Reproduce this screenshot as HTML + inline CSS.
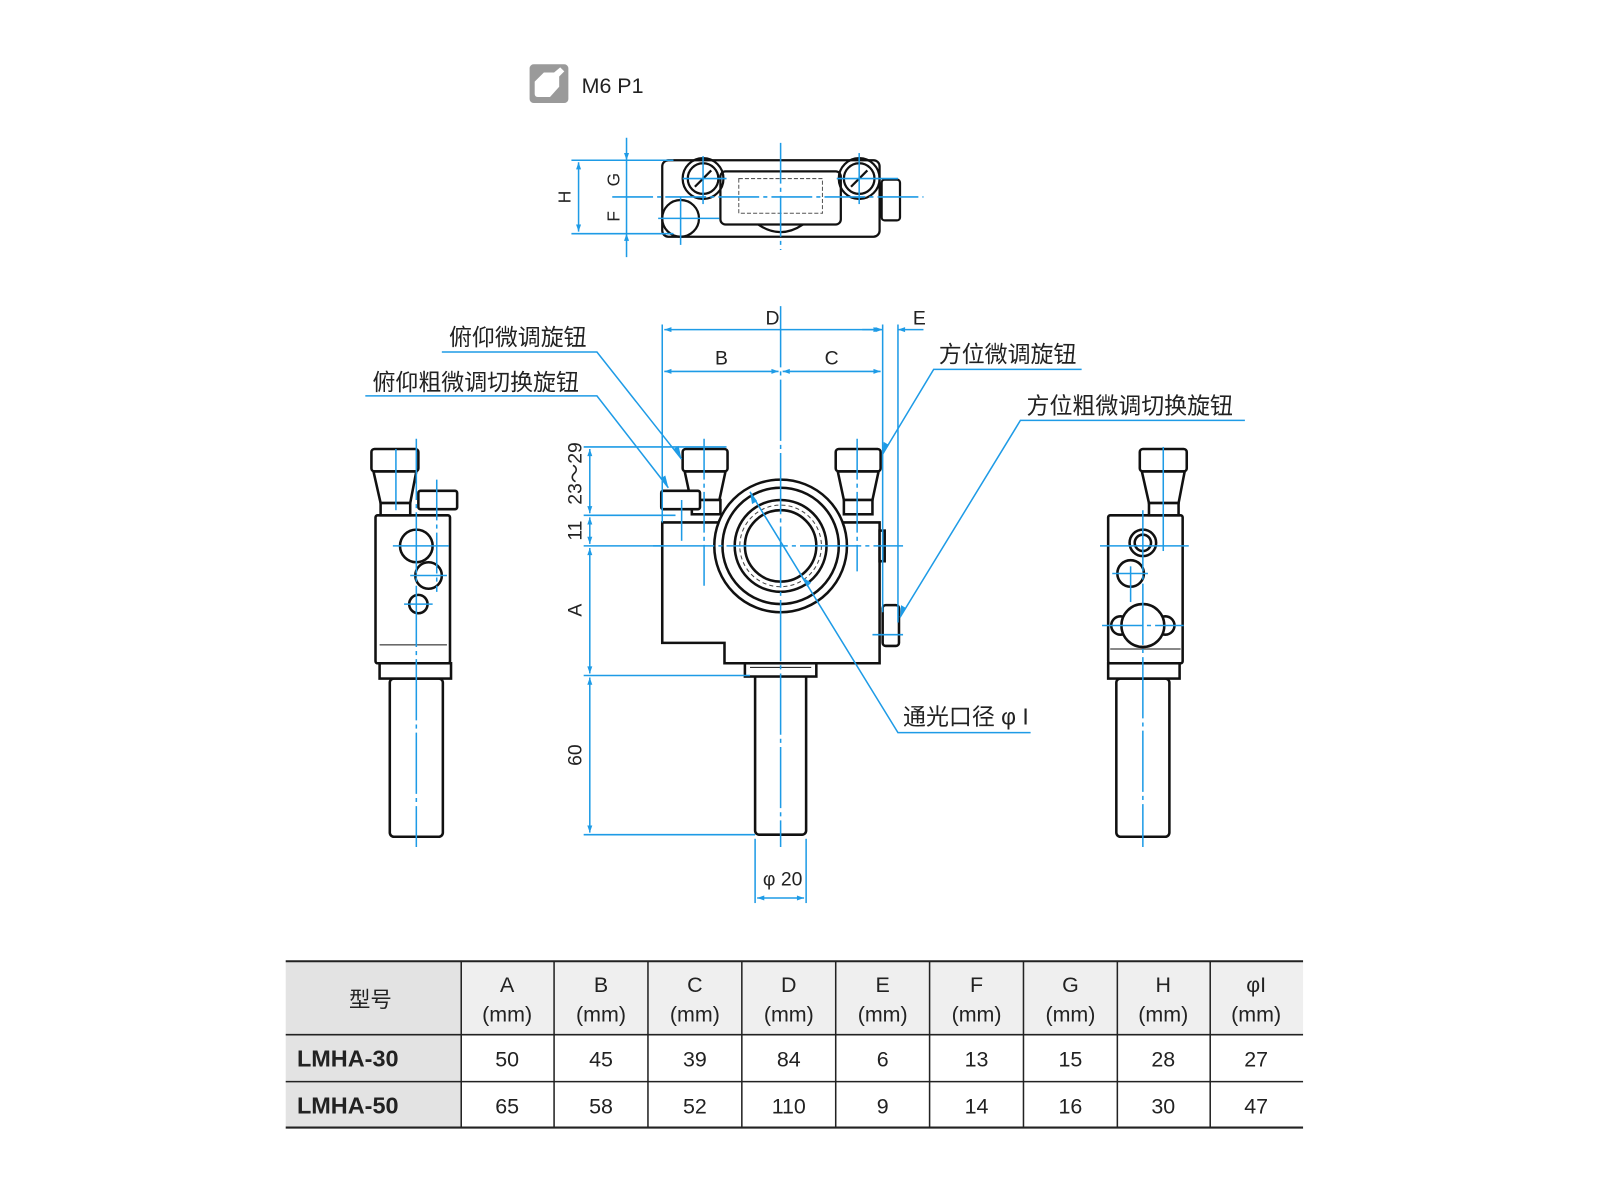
<!DOCTYPE html>
<html><head><meta charset="utf-8"><style>
html,body{margin:0;padding:0;background:#fff;}
svg{display:block;}
text{font-family:"Liberation Sans","Noto Sans CJK SC",sans-serif;}
</style></head><body>
<svg width="1600" height="1200" viewBox="0 0 1568 1176" xmlns="http://www.w3.org/2000/svg">
<defs>
<marker id="a" viewBox="0 0 10 10" refX="10" refY="5" markerWidth="9" markerHeight="7" orient="auto-start-reverse" markerUnits="userSpaceOnUse"><path d="M0,1.5 L10,5 L0,8.5 z" fill="#1e9be6"/></marker>
</defs>
<rect width="1568" height="1176" fill="#fff"/>

<!-- icon -->
<rect x="519" y="63" width="38" height="38" rx="4" fill="#9a9a9a"/>
<path d="M524,80 L533,71 L543,71 L549,66 L553,70 L548,75 L548,85 L539,95 L527,95 Q524,95 524,92 Z" fill="#fff"/>
<text x="570" y="91" font-size="21" fill="#222">M6 P1</text>

<!-- TOP VIEW -->
<g fill="none" stroke="#111" stroke-width="2.2">
<rect x="649" y="157" width="213" height="75" rx="6"/>
<rect x="706" y="168" width="118" height="52" rx="5"/>
<path d="M743,220 Q765,235 787,220"/>
<circle cx="689" cy="175" r="20"/><circle cx="689" cy="175" r="15"/>
<circle cx="842" cy="175" r="20"/><circle cx="842" cy="175" r="15"/>
<circle cx="667" cy="214" r="18" fill="#fff"/>
<rect x="864" y="176" width="18" height="40" rx="3"/>
<line x1="681" y1="183" x2="697" y2="167"/><line x1="834" y1="183" x2="850" y2="167"/>
</g>
<rect x="724" y="175" width="82" height="34" fill="none" stroke="#555" stroke-width="1" stroke-dasharray="4,2"/>
<g stroke="#1e9be6" stroke-width="1.5" fill="none">
<line x1="600" y1="193" x2="905" y2="193" stroke-dasharray="40,4,4,4"/>
<line x1="765" y1="140" x2="765" y2="245" stroke-dasharray="40,4,4,4"/>
<line x1="669" y1="175" x2="712" y2="175"/><line x1="689" y1="153" x2="689" y2="200"/>
<line x1="820" y1="175" x2="880" y2="175"/><line x1="842" y1="150" x2="842" y2="200"/>
<line x1="645" y1="214" x2="705" y2="214"/><line x1="667" y1="193" x2="667" y2="240"/>
<line x1="560" y1="157" x2="660" y2="157"/><line x1="560" y1="229" x2="660" y2="229"/>
<line x1="567" y1="159" x2="567" y2="227" marker-start="url(#a)" marker-end="url(#a)"/>
<line x1="614" y1="135" x2="614" y2="157" marker-end="url(#a)"/>
<line x1="614" y1="157" x2="614" y2="229"/>
<line x1="614" y1="252" x2="614" y2="229" marker-end="url(#a)"/>
</g>
<g font-size="17" fill="#222" text-anchor="middle">
<text transform="translate(559,193) rotate(-90)">H</text>
<text transform="translate(607,176) rotate(-90)">G</text>
<text transform="translate(607,212) rotate(-90)">F</text>
</g>

<!-- FRONT VIEW -->
<g fill="#fff" stroke="#111" stroke-width="2.5">
<rect x="740" y="660" width="50" height="158" rx="4"/>
<rect x="730" y="650" width="70" height="13"/>
<path d="M649,512 L720,512 L720,540 A45,45 0 0 0 810,540 L810,512 L862,512 L862,650 L710,650 L710,630 L649,630 Z"/>
<circle cx="765" cy="535" r="65"/>
<circle cx="765" cy="535" r="57"/>
<circle cx="765" cy="535" r="45"/>
<circle cx="765" cy="535" r="35"/>
<rect x="669" y="440" width="44" height="22" rx="3"/>
<path d="M671,462 L711,462 L705,490 L677,490 Z"/>
<rect x="678" y="490" width="28" height="14"/>
<rect x="819" y="440" width="44" height="22" rx="3"/>
<path d="M821,462 L861,462 L855,490 L827,490 Z"/>
<rect x="827" y="490" width="28" height="14"/>
<rect x="648" y="481" width="38" height="18" rx="2"/>
<rect x="865" y="593" width="16" height="40" rx="3"/>
<rect x="862" y="520" width="5" height="30"/>
</g>
<circle cx="765" cy="535" r="40" fill="none" stroke="#444" stroke-width="1" stroke-dasharray="4,3"/>
<g stroke="#111" stroke-width="1"><line x1="735" y1="654" x2="795" y2="654"/></g>

<!-- left side view -->
<g fill="#fff" stroke="#111" stroke-width="2.5">
<rect x="382" y="665" width="52" height="155" rx="4"/>
<rect x="372" y="650" width="70" height="15"/>
<rect x="368" y="505" width="73" height="145" rx="2"/>
<rect x="364" y="440" width="46" height="22" rx="3"/>
<path d="M366,462 L408,462 L402,493 L373,493 Z"/>
<rect x="373" y="493" width="29" height="12"/>
<rect x="410" y="481" width="38" height="18" rx="2"/>
<circle cx="408" cy="535" r="16"/>
<circle cx="420" cy="564" r="13"/>
<circle cx="410" cy="592" r="9"/>
</g>
<line x1="372" y1="632" x2="438" y2="632" stroke="#111" stroke-width="1"/>

<!-- right side view -->
<g fill="#fff" stroke="#111" stroke-width="2.5">
<rect x="1094" y="665" width="52" height="155" rx="4"/>
<rect x="1086" y="650" width="70" height="15"/>
<rect x="1086" y="505" width="73" height="145" rx="2"/>
<rect x="1117" y="440" width="46" height="22" rx="3"/>
<path d="M1119,462 L1161,462 L1155,493 L1126,493 Z"/>
<rect x="1126" y="493" width="29" height="12"/>
<circle cx="1120" cy="532" r="13"/><circle cx="1120" cy="532" r="8"/>
<circle cx="1108" cy="562" r="13"/>
<circle cx="1098" cy="613" r="9"/><circle cx="1142" cy="613" r="9"/>
<circle cx="1120" cy="613" r="21"/>
</g>
<line x1="1088" y1="636" x2="1157" y2="636" stroke="#111" stroke-width="1"/>

<!-- blue centerlines & dims -->
<g stroke="#1e9be6" stroke-width="1.5" fill="none">
<line x1="765" y1="300" x2="765" y2="830" stroke-dasharray="60,4,4,4"/>
<line x1="640" y1="535" x2="885" y2="535" stroke-dasharray="60,4,4,4"/>
<line x1="690" y1="430" x2="690" y2="575" stroke-dasharray="40,4,4,4"/>
<line x1="840" y1="430" x2="840" y2="560" stroke-dasharray="40,4,4,4"/>
<line x1="668" y1="490" x2="668" y2="530"/>
<line x1="855" y1="622" x2="885" y2="622"/>
<line x1="649" y1="318" x2="649" y2="512"/>
<line x1="865" y1="318" x2="865" y2="600"/>
<line x1="880" y1="318" x2="880" y2="610"/>
<line x1="651" y1="323" x2="863" y2="323" marker-start="url(#a)" marker-end="url(#a)"/>
<line x1="845" y1="323" x2="865" y2="323" marker-end="url(#a)"/>
<line x1="905" y1="323" x2="880" y2="323" marker-end="url(#a)"/>
<line x1="651" y1="364" x2="763" y2="364" marker-start="url(#a)" marker-end="url(#a)"/>
<line x1="767" y1="364" x2="863" y2="364" marker-start="url(#a)" marker-end="url(#a)"/>
<line x1="572" y1="438" x2="712" y2="438"/>
<line x1="572" y1="505" x2="662" y2="505"/>
<line x1="572" y1="535" x2="650" y2="535"/>
<line x1="572" y1="662" x2="735" y2="662"/>
<line x1="572" y1="818" x2="740" y2="818"/>
<line x1="578" y1="440" x2="578" y2="503" marker-start="url(#a)" marker-end="url(#a)"/>
<line x1="578" y1="507" x2="578" y2="533" marker-start="url(#a)" marker-end="url(#a)"/>
<line x1="578" y1="537" x2="578" y2="660" marker-start="url(#a)" marker-end="url(#a)"/>
<line x1="578" y1="664" x2="578" y2="816" marker-start="url(#a)" marker-end="url(#a)"/>
<line x1="740" y1="822" x2="740" y2="885"/>
<line x1="790" y1="822" x2="790" y2="885"/>
<line x1="742" y1="880" x2="788" y2="880" marker-start="url(#a)" marker-end="url(#a)"/>
<line x1="408" y1="430" x2="408" y2="830" stroke-dasharray="60,4,4,4"/>
<line x1="388" y1="440" x2="388" y2="500"/>
<line x1="428" y1="470" x2="428" y2="580" stroke-dasharray="40,4,4,4"/>
<line x1="385" y1="535" x2="440" y2="535"/>
<line x1="402" y1="564" x2="438" y2="564"/>
<line x1="396" y1="592" x2="424" y2="592"/>
<line x1="1120" y1="500" x2="1120" y2="830" stroke-dasharray="60,4,4,4"/>
<line x1="1140" y1="438" x2="1140" y2="540"/>
<line x1="1078" y1="535" x2="1165" y2="535"/>
<line x1="1090" y1="562" x2="1125" y2="562"/>
<line x1="1108" y1="555" x2="1108" y2="590"/>
<line x1="1080" y1="613" x2="1160" y2="613" stroke-dasharray="40,4,4,4"/>
<polyline points="433,345 585,345 668,450"/>
<polyline points="358,388 585,388 655,478"/>
<polyline points="1060,362 915,362 865,445"/>
<polyline points="1220,412 1000,412 882,605"/>
<polyline points="1010,718 880,718 735,482"/>
</g>
<g fill="#1e9be6">
<path d="M668,450 L660,440 L665,437 Z"/><path d="M655,478 L647,469 L652,466 Z"/>
<path d="M865,445 L866,433 L871,436 Z"/><path d="M882,605 L883,593 L888,596 Z"/>
<path d="M735,482 L737,494 L742,491 Z"/><path d="M785,565 L791,575 L795,571 Z"/>
</g>

<g font-size="19" fill="#222" text-anchor="middle">
<text x="757" y="318">D</text>
<text x="901" y="318">E</text>
<text x="707" y="357">B</text>
<text x="815" y="357">C</text>
<text transform="translate(570,464) rotate(-90)">23〜29</text>
<text transform="translate(570,520) rotate(-90)">11</text>
<text transform="translate(570,598) rotate(-90)">A</text>
<text transform="translate(570,740) rotate(-90)">60</text>
<text x="767" y="868">φ 20</text>
</g>
<g font-size="22.5" fill="#222">
<text x="440" y="338">俯仰微调旋钮</text>
<text x="365" y="382">俯仰粗微调切换旋钮</text>
<text x="920" y="355">方位微调旋钮</text>
<text x="1006" y="405">方位粗微调切换旋钮</text>
<text x="885" y="710">通光口径 φ I</text>
</g>

<!-- TABLE -->
<rect x="280" y="942" width="172" height="163" fill="#e3e3e3"/>
<rect x="452" y="942" width="825" height="72" fill="#efefef"/>
<g stroke="#222" stroke-width="1.5">
<line x1="280" y1="942" x2="1277" y2="942" stroke-width="2"/>
<line x1="280" y1="1014" x2="1277" y2="1014"/>
<line x1="280" y1="1060" x2="1277" y2="1060"/>
<line x1="280" y1="1105" x2="1277" y2="1105" stroke-width="2"/>
<line x1="452" y1="942" x2="452" y2="1105"/>
<line x1="543" y1="942" x2="543" y2="1105"/>
<line x1="635" y1="942" x2="635" y2="1105"/>
<line x1="727" y1="942" x2="727" y2="1105"/>
<line x1="819" y1="942" x2="819" y2="1105"/>
<line x1="911" y1="942" x2="911" y2="1105"/>
<line x1="1003" y1="942" x2="1003" y2="1105"/>
<line x1="1095" y1="942" x2="1095" y2="1105"/>
<line x1="1186" y1="942" x2="1186" y2="1105"/>
</g>
<g font-size="21" fill="#222" text-anchor="middle">
<text x="363" y="987">型号</text>
<text x="497" y="972">A</text><text x="497" y="1001">(mm)</text>
<text x="589" y="972">B</text><text x="589" y="1001">(mm)</text>
<text x="681" y="972">C</text><text x="681" y="1001">(mm)</text>
<text x="773" y="972">D</text><text x="773" y="1001">(mm)</text>
<text x="865" y="972">E</text><text x="865" y="1001">(mm)</text>
<text x="957" y="972">F</text><text x="957" y="1001">(mm)</text>
<text x="1049" y="972">G</text><text x="1049" y="1001">(mm)</text>
<text x="1140" y="972">H</text><text x="1140" y="1001">(mm)</text>
<text x="1231" y="972">φI</text><text x="1231" y="1001">(mm)</text>
<text x="497" y="1045">50</text><text x="589" y="1045">45</text><text x="681" y="1045">39</text><text x="773" y="1045">84</text><text x="865" y="1045">6</text><text x="957" y="1045">13</text><text x="1049" y="1045">15</text><text x="1140" y="1045">28</text><text x="1231" y="1045">27</text>
<text x="497" y="1091">65</text><text x="589" y="1091">58</text><text x="681" y="1091">52</text><text x="773" y="1091">110</text><text x="865" y="1091">9</text><text x="957" y="1091">14</text><text x="1049" y="1091">16</text><text x="1140" y="1091">30</text><text x="1231" y="1091">47</text>
</g>
<g font-size="23" font-weight="bold" fill="#222">
<text x="291" y="1045">LMHA-30</text>
<text x="291" y="1091">LMHA-50</text>
</g>
</svg>
</body></html>
